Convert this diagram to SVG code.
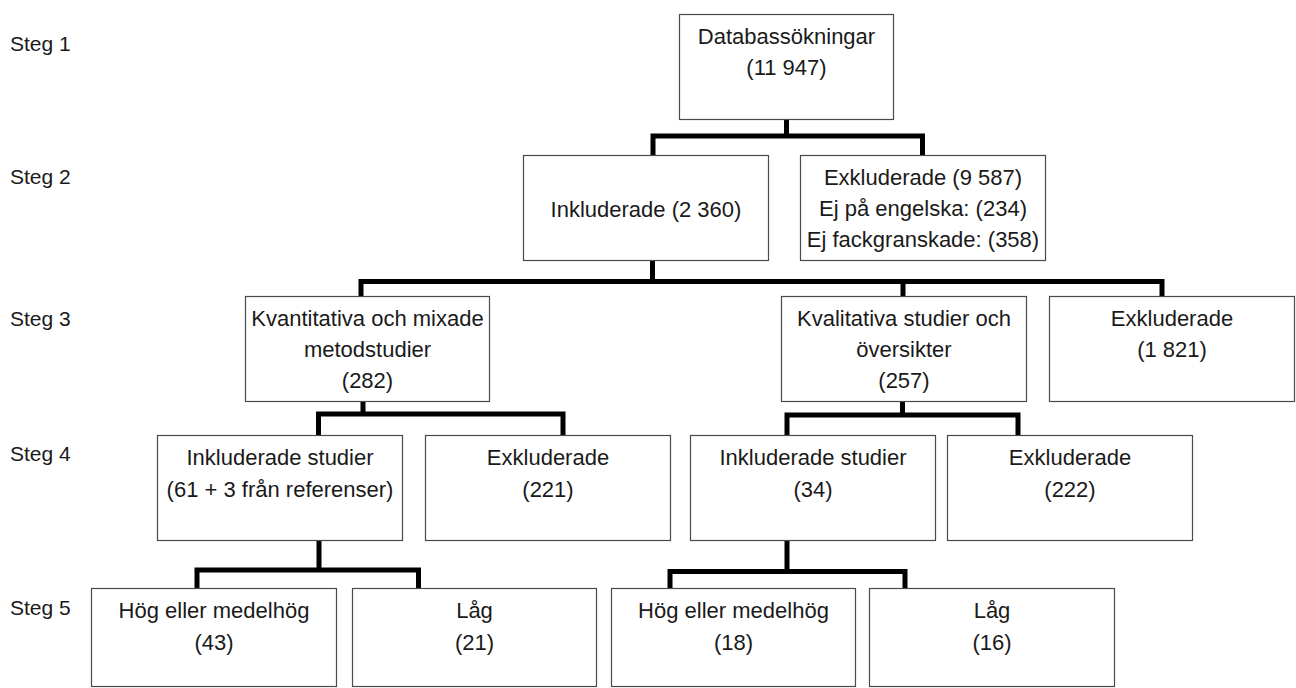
<svg xmlns="http://www.w3.org/2000/svg" width="1296" height="688" viewBox="0 0 1296 688">
<style>
  .box { fill: #ffffff; stroke: #4a4a4a; stroke-width: 1.2; }
  .t { font-family: "Liberation Sans", Arial, sans-serif; font-size: 22px; fill: #1a1a1a; text-anchor: middle; }
  .step { font-family: "Liberation Sans", Arial, sans-serif; font-size: 21px; fill: #1a1a1a; }
  .conn { fill: none; stroke: #000000; stroke-width: 5; stroke-linejoin: miter; stroke-linecap: butt; }
</style>
<rect width="1296" height="688" fill="#ffffff"/>
<g id="steps">
  <text class="step" x="10" y="51">Steg 1</text>
  <text class="step" x="10" y="184">Steg 2</text>
  <text class="step" x="10" y="326">Steg 3</text>
  <text class="step" x="10" y="461">Steg 4</text>
  <text class="step" x="10" y="615">Steg 5</text>
</g>
<g id="connectors">
  <path class="conn" d="M653 155 V136 H922.5 V155 M786.5 119 V136"/>
  <path class="conn" d="M361 296 V281.5 H1162 V296 M652.5 260 V281.5 M903 281.5 V296"/>
  <path class="conn" d="M318.5 435 V414 H563 V435 M363 401 V414"/>
  <path class="conn" d="M787 435 V415 H1018 V435 M902.5 401 V415"/>
  <path class="conn" d="M197 588 V570 H418.5 V588 M319 540 V570"/>
  <path class="conn" d="M670 588 V571.5 H905 V588 M787 540 V571.5"/>
</g>
<g id="n-databas">
  <rect class="box" x="679.5" y="14.5" width="214" height="105"/>
  <text class="t" x="786.5" y="44">Databassökningar</text>
  <text class="t" x="786.5" y="75">(11 947)</text>
</g>
<g id="n-inkluderade">
  <rect class="box" x="523.5" y="155.5" width="245" height="105"/>
  <text class="t" x="646" y="217">Inkluderade (2 360)</text>
</g>
<g id="n-exkluderade1">
  <rect class="box" x="800.5" y="155.5" width="245" height="105"/>
  <text class="t" x="923" y="185">Exkluderade (9 587)</text>
  <text class="t" x="923" y="216">Ej på engelska: (234)</text>
  <text class="t" x="923" y="247">Ej fackgranskade: (358)</text>
</g>
<g id="n-kvantitativa">
  <rect class="box" x="245.5" y="296.5" width="244" height="105"/>
  <text class="t" x="367.5" y="326">Kvantitativa och mixade</text>
  <text class="t" x="367.5" y="357">metodstudier</text>
  <text class="t" x="367.5" y="388">(282)</text>
</g>
<g id="n-kvalitativa">
  <rect class="box" x="781.5" y="296.5" width="245" height="105"/>
  <text class="t" x="904" y="326">Kvalitativa studier och</text>
  <text class="t" x="904" y="357">översikter</text>
  <text class="t" x="904" y="388">(257)</text>
</g>
<g id="n-exkluderade2">
  <rect class="box" x="1049.5" y="296.5" width="245" height="105"/>
  <text class="t" x="1172" y="326">Exkluderade</text>
  <text class="t" x="1172" y="357">(1 821)</text>
</g>
<g id="n-inkl-studier-1">
  <rect class="box" x="157.5" y="435.5" width="245" height="105"/>
  <text class="t" x="280" y="465">Inkluderade studier</text>
  <text class="t" x="280" y="497">(61 + 3 från referenser)</text>
</g>
<g id="n-exkl-221">
  <rect class="box" x="425.5" y="435.5" width="245" height="105"/>
  <text class="t" x="548" y="465">Exkluderade</text>
  <text class="t" x="548" y="497">(221)</text>
</g>
<g id="n-inkl-studier-2">
  <rect class="box" x="690.5" y="435.5" width="245" height="105"/>
  <text class="t" x="813" y="465">Inkluderade studier</text>
  <text class="t" x="813" y="497">(34)</text>
</g>
<g id="n-exkl-222">
  <rect class="box" x="947.5" y="435.5" width="245" height="105"/>
  <text class="t" x="1070" y="465">Exkluderade</text>
  <text class="t" x="1070" y="497">(222)</text>
</g>
<g id="n-hog-43">
  <rect class="box" x="91.5" y="588.5" width="245" height="98"/>
  <text class="t" x="214" y="618">Hög eller medelhög</text>
  <text class="t" x="214" y="650">(43)</text>
</g>
<g id="n-lag-21">
  <rect class="box" x="352.5" y="588.5" width="244" height="98"/>
  <text class="t" x="474.5" y="618">Låg</text>
  <text class="t" x="474.5" y="650">(21)</text>
</g>
<g id="n-hog-18">
  <rect class="box" x="611.5" y="588.5" width="244" height="98"/>
  <text class="t" x="733.5" y="618">Hög eller medelhög</text>
  <text class="t" x="733.5" y="650">(18)</text>
</g>
<g id="n-lag-16">
  <rect class="box" x="869.5" y="588.5" width="245" height="98"/>
  <text class="t" x="992" y="618">Låg</text>
  <text class="t" x="992" y="650">(16)</text>
</g>
</svg>
